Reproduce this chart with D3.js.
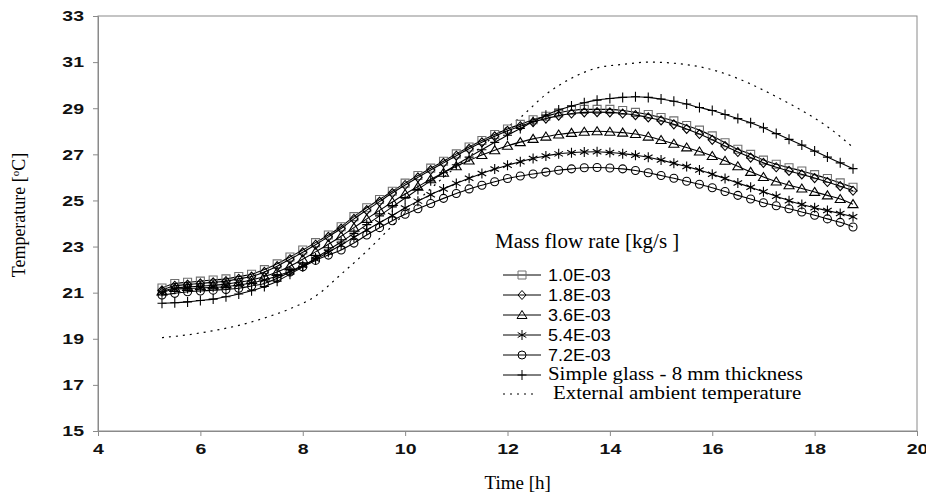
<!DOCTYPE html>
<html>
<head>
<meta charset="utf-8">
<script src="https://cdn.jsdelivr.net/npm/d3@7"></script>
<style>
  body { margin: 0; background: #fff; }
  svg { display: block; }
  .axis path, .axis line { stroke: #8a8a8a; }
  .axis text { font-family: "Liberation Sans", Arial, sans-serif; font-size: 15px; font-weight: bold; fill: #111; }
  .title { font-family: "Liberation Serif", "Times New Roman", serif; fill: #000; }
  .leg { font-family: "Liberation Sans", Arial, sans-serif; }
</style>
</head>
<body>
<div id="chart-area"></div>
<script>
// time of each marker, hours
const hours = [
  5.25, 5.5, 5.75, 6, 6.25, 6.5, 6.75, 7, 7.25, 7.5, 7.75, 8, 8.25, 8.5, 8.75,
  9, 9.25, 9.5, 9.75, 10, 10.25, 10.5, 10.75, 11, 11.25, 11.5, 11.75, 12,
  12.25, 12.5, 12.75, 13, 13.25, 13.5, 13.75, 14, 14.25, 14.5, 14.75, 15,
  15.25, 15.5, 15.75, 16, 16.25, 16.5, 16.75, 17, 17.25, 17.5, 17.75, 18,
  18.25, 18.5, 18.75
];

const flow10 = [
  21.2, 21.4, 21.45, 21.5, 21.55, 21.6, 21.7, 21.8, 22.0, 22.25, 22.55, 22.85, 23.17, 23.5, 23.86,
  24.3, 24.68, 25.04, 25.4, 25.75, 26.08, 26.4, 26.7, 27.02, 27.32, 27.6, 27.86, 28.1,
  28.3, 28.5, 28.65, 28.8, 28.9, 28.95, 28.95, 28.95, 28.9, 28.82, 28.73, 28.6,
  28.45, 28.25, 28.05, 27.8, 27.5, 27.22, 27.0, 26.75, 26.57, 26.42, 26.28, 26.12,
  25.95, 25.76, 25.57
];
const flow18 = [
  21.1, 21.3, 21.35, 21.4, 21.45, 21.5, 21.6, 21.7, 21.9, 22.15, 22.45, 22.75, 23.08, 23.42, 23.78,
  24.2, 24.58, 24.95, 25.32, 25.67, 26.0, 26.32, 26.63, 26.94, 27.24, 27.52, 27.78, 28.02,
  28.22, 28.4, 28.55, 28.68, 28.77, 28.82, 28.83, 28.82, 28.77, 28.7, 28.6, 28.47,
  28.3, 28.1, 27.88, 27.63, 27.36, 27.1, 26.86, 26.63, 26.44, 26.28, 26.13, 25.97,
  25.8, 25.62, 25.42
];
const flow36 = [
  21.05, 21.2, 21.25, 21.28, 21.32, 21.37, 21.45, 21.55, 21.7, 21.9, 22.15, 22.45, 22.77, 23.1, 23.45,
  23.82, 24.2, 24.57, 24.93, 25.28, 25.6, 25.92, 26.2, 26.48, 26.73, 26.97, 27.18, 27.37,
  27.53, 27.67, 27.77, 27.86, 27.93, 27.98, 28.0, 27.98, 27.94, 27.88, 27.77, 27.62,
  27.46, 27.3, 27.12, 26.93, 26.72, 26.48, 26.24, 26.02, 25.82, 25.66, 25.52, 25.37,
  25.22, 25.06, 24.84
];
const flow54 = [
  21.0, 21.15, 21.18, 21.2, 21.23, 21.27, 21.33, 21.42, 21.55, 21.72, 21.93, 22.18, 22.45, 22.75, 23.07,
  23.4, 23.72, 24.03, 24.35, 24.67, 24.97, 25.25, 25.5, 25.74, 25.96, 26.17, 26.36, 26.53,
  26.68, 26.82, 26.93, 27.02, 27.07, 27.1, 27.11, 27.08, 27.03, 26.96, 26.87, 26.75,
  26.61, 26.47, 26.32, 26.14, 25.95, 25.76, 25.57, 25.38, 25.18, 24.99, 24.82, 24.68,
  24.56, 24.43, 24.29
];
const flow72 = [
  20.9, 20.97, 21.04, 21.07, 21.11, 21.14, 21.19, 21.29, 21.4, 21.62, 21.9, 22.12, 22.4, 22.63, 22.85,
  23.15, 23.5, 23.82, 24.12, 24.4, 24.64, 24.87, 25.09, 25.3, 25.5, 25.66, 25.81, 25.95,
  26.06, 26.15, 26.23, 26.31, 26.37, 26.42, 26.43, 26.41, 26.37, 26.3, 26.2, 26.08,
  25.96, 25.83, 25.7, 25.55, 25.39, 25.22, 25.06, 24.9, 24.77, 24.64, 24.5, 24.36,
  24.2, 24.05, 23.85
];
const glass8 = [
  20.54, 20.56, 20.6, 20.66, 20.72, 20.82, 20.94, 21.08, 21.27, 21.5, 21.8, 22.12, 22.5, 22.85, 23.2,
  23.57, 23.95, 24.33, 24.72, 25.1, 25.48, 25.85, 26.2, 26.55, 26.88, 27.2, 27.52, 27.83,
  28.12, 28.42, 28.7, 28.92, 29.1, 29.24, 29.35, 29.42, 29.47, 29.5, 29.47, 29.4,
  29.3, 29.18, 29.03, 28.9, 28.73, 28.55, 28.37, 28.15, 27.9, 27.65, 27.4, 27.14,
  26.88, 26.63, 26.38
];

const ambientHours = [
  5.25, 5.75, 6.25, 6.75, 7.25, 7.75, 8.25, 8.75, 9.25, 9.75, 10.25, 10.75, 11.25, 11.75,
  12.25, 12.75, 13.25, 13.75, 14.25, 14.75, 15.25, 15.75, 16.25, 16.75, 17.25, 17.75, 18.25, 18.75
];
const ambient = [
  19.05, 19.17, 19.35, 19.58, 19.9, 20.3, 20.85, 21.8, 22.8, 23.9, 25.0, 26.0, 26.9, 27.8,
  28.6, 29.6, 30.3, 30.75, 30.9, 31.0, 30.95, 30.8, 30.5, 30.05, 29.5, 28.9, 28.2, 27.3
];

const yTicks = [15, 17, 19, 21, 23, 25, 27, 29, 31, 33];
const xTicks = [4, 6, 8, 10, 12, 14, 16, 18, 20];

const seriesNames = ["1.0E-03", "1.8E-03", "3.6E-03", "5.4E-03", "7.2E-03", "Simple glass - 8 mm thickness"];
const seriesValues = [flow10, flow18, flow36, flow54, flow72, glass8];
const seriesMarks = ["square", "diamond", "triangle", "asterisk", "circle", "plus"];
const ambientName = "External ambient temperature";

const chartSize = { width: 926, height: 495 };
const margin = { left: 98, right: 9, top: 16, bottom: 64 };
const width = chartSize.width - margin.left - margin.right;
const height = chartSize.height - margin.top - margin.bottom;

const markPath = type => {
  switch (type) {
    case "square": return "M-4,-4H4V4H-4Z";
    case "diamond": return "M0,-4.5L4,0L0,4.5L-4,0Z";
    case "triangle": return "M0,-4.5L5,3.5H-5Z";
    case "circle": return "M-4,0A4,4 0 1,0 4,0A4,4 0 1,0 -4,0Z";
    case "plus": return "M0,-5V5M-4.5,0H4.5";
    case "asterisk": return "M0,-5V5M-4.3,-2.5L4.3,2.5M-4.3,2.5L4.3,-2.5";
  }
};
const markColor = type => (type === "square" ? "#707070" : "#000");

// the source figure is a bit wider than tall, so its text is stretched sideways
const stretch = (sel, k) => {
  sel.each(function() {
    const len = this.getComputedTextLength();
    d3.select(this)
      .attr("textLength", len * k)
      .attr("lengthAdjust", "spacingAndGlyphs");
  });
};

const main = () => {
  const svg = d3.select("#chart-area")
    .append("svg")
    .attr("width", chartSize.width)
    .attr("height", chartSize.height);

  const g = svg.append("g")
    .attr("transform", `translate(${margin.left}, ${margin.top})`);

  const x = d3.scaleLinear().domain([4, 20]).range([0, width]);
  const y = d3.scaleLinear().domain([15, 33]).range([height, 0]);

  g.append("rect")
    .attr("width", width)
    .attr("height", height)
    .attr("fill", "none")
    .attr("stroke", "#8a8a8a");

  g.append("g")
    .attr("class", "y axis")
    .call(d3.axisLeft(y).tickValues(yTicks).tickSize(5).tickPadding(9));

  g.append("g")
    .attr("class", "x axis")
    .attr("transform", `translate(0, ${height})`)
    .call(d3.axisBottom(x).tickValues(xTicks).tickSize(5).tickPadding(7));

  stretch(g.selectAll(".axis text"), 1.3);

  const line = d3.line()
    .x(d => x(d[0]))
    .y(d => y(d[1]))
    .curve(d3.curveMonotoneX);

  g.append("path")
    .attr("d", line(ambientHours.map((h, i) => [h, ambient[i]])))
    .attr("fill", "none")
    .attr("stroke", "#000")
    .attr("stroke-width", 1.2)
    .attr("stroke-dasharray", "2,5");

  seriesValues.forEach((vals, k) => {
    const pts = hours.map((h, i) => [h, vals[i]]);
    const s = g.append("g").attr("class", "series");
    s.append("path")
      .attr("d", line(pts))
      .attr("fill", "none")
      .attr("stroke", "#000")
      .attr("stroke-width", 1.1);
    s.selectAll(".mk")
      .data(pts)
      .join("path")
      .attr("class", "mk")
      .attr("transform", d => `translate(${x(d[0])}, ${y(d[1])})`)
      .attr("d", markPath(seriesMarks[k]))
      .attr("fill", "none")
      .attr("stroke", markColor(seriesMarks[k]))
      .attr("stroke-width", 1.1);
  });

  // axis titles
  svg.append("text")
    .attr("class", "title")
    .attr("x", margin.left + x(12.2))
    .attr("y", 489)
    .attr("text-anchor", "middle")
    .style("font-size", "19px")
    .text("Time [h]");

  const yt = svg.append("text")
    .attr("class", "title")
    .attr("transform", "translate(25, 215) rotate(-90)")
    .attr("text-anchor", "middle")
    .style("font-size", "18px");
  yt.append("tspan").text("Temperature [");
  yt.append("tspan").attr("dy", -6).style("font-size", "11px").text("o");
  yt.append("tspan").attr("dy", 6).text("C]");

  // legend
  const leg = svg.append("g").attr("transform", "translate(495, 0)");
  leg.append("text")
    .attr("class", "title")
    .attr("x", 0)
    .attr("y", 248)
    .style("font-size", "20px")
    .text("Mass flow rate [kg/s ]")
    .call(stretch, 1.05);

  const rowY = [275, 295, 315, 335, 355, 375];
  seriesNames.forEach((name, k) => {
    const r = leg.append("g").attr("transform", `translate(0, ${rowY[k]})`);
    r.append("line").attr("x1", 8).attr("x2", 46).attr("stroke", "#000");
    r.append("path")
      .attr("transform", "translate(27, 0)")
      .attr("d", markPath(seriesMarks[k]))
      .attr("fill", "none")
      .attr("stroke", markColor(seriesMarks[k]));
    r.append("text")
      .attr("class", k === 5 ? "title" : "leg")
      .attr("x", 53)
      .attr("y", k === 5 ? 5 : 6)
      .style("font-size", k === 5 ? "19px" : "16px")
      .text(name)
      .call(stretch, k === 5 ? 1.1 : 1.12);
  });
  const ra = leg.append("g").attr("transform", "translate(0, 394)");
  ra.append("line").attr("x1", 8).attr("x2", 40)
    .attr("stroke", "#000").attr("stroke-width", 1.2).attr("stroke-dasharray", "2,5");
  ra.append("text")
    .attr("class", "title")
    .attr("x", 58)
    .attr("y", 5)
    .style("font-size", "19px")
    .text(ambientName)
    .call(stretch, 1.1);
};

window.onload = main;
</script>
</body>
</html>
